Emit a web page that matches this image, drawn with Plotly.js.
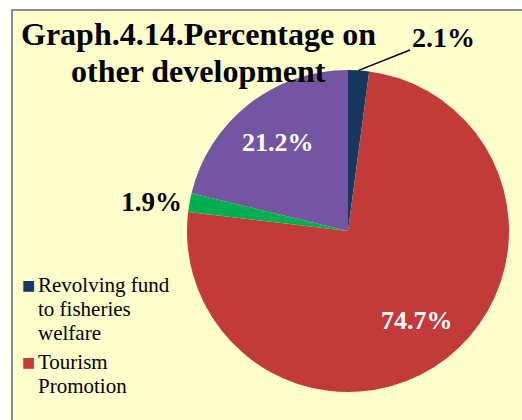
<!DOCTYPE html>
<html>
<head>
<meta charset="utf-8">
<script src="https://cdn.plot.ly/plotly-3.0.1.min.js"></script>
<style>html,body{margin:0;padding:0;background:#fff;}#chart{width:522px;height:420px;}</style>
</head>
<body>
<div id="chart"></div>
<script>
// Data
const categories = ["Revolving fund to fisheries welfare", "Tourism Promotion", "Fisheries infrastructure", "Other development"];
const values = [2.1, 74.7, 1.9, 21.2];
const colors = ["#17375E", "#C23A39", "#00B050", "#7455A2"];
const legendShown = [0, 1];
const legendLines = [["Revolving fund", "to fisheries", "welfare"], ["Tourism", "Promotion"]];
const titleLines = ["Graph.4.14.Percentage on", "other development"];

const W = 522, H = 420;
const cx = 348, cy = 231, r = 161;
const serif = "Liberation Serif";

const pct = values.map(v => v.toFixed(1) + "%");
const total = values.reduce((a, b) => a + b, 0);
const mids = [];
let acc = 0;
values.forEach(v => { mids.push((acc + v / 2) / total * 2 * Math.PI); acc += v; });

const trace = {
  type: "pie",
  labels: categories,
  values: values,
  text: pct,
  texttemplate: "%{text}",
  textinfo: "text",
  textposition: ["none", "none", "outside", "none"],
  sort: false,
  direction: "clockwise",
  rotation: 0,
  marker: {colors: colors, line: {width: 0}},
  outsidetextfont: {family: serif, size: 27, color: "#000000", weight: "bold"},
  domain: {x: [(cx - r) / W, (cx + r) / W], y: [(H - cy - r) / H, (H - cy + r) / H]},
  showlegend: false,
  hoverinfo: "none"
};

const annotations = [];
// title lines
const titleCenters = [34, 71];
titleLines.forEach((t, i) => {
  annotations.push({
    xref: "paper", yref: "paper", x: 198 / W, y: (H - titleCenters[i]) / H,
    xanchor: "center", yanchor: "middle", showarrow: false,
    text: "<b>" + t + "</b>", font: {family: serif, size: 32, color: "#000"}
  });
});
// inside labels for the two large slices, at slice mid-angle
[1, 3].forEach(i => {
  const f = 0.7;
  const lx = cx + f * r * Math.sin(mids[i]), ly = cy - f * r * Math.cos(mids[i]);
  annotations.push({
    xref: "paper", yref: "paper", x: lx / W, y: (H - ly) / H,
    xanchor: "center", yanchor: "middle", showarrow: false,
    text: "<b>" + pct[i] + "</b>", font: {family: serif, size: 26, color: "#fff"}
  });
});
// small-slice label with leader line (slice 0)
const px = cx + r * Math.sin(mids[0]), py = cy - r * Math.cos(mids[0]);
annotations.push({
  xref: "paper", yref: "paper", x: px / W, y: (H - py) / H,
  text: "<b>" + pct[0] + "</b>", showarrow: true, arrowhead: 0, arrowwidth: 1.5, arrowcolor: "#000",
  ax: 443 - px, ay: 37 - py, font: {family: serif, size: 28, color: "#000"}
});
// legend built from data
const legendY = [285, 362];
const lineGap = 24;
legendShown.forEach((idx, k) => {
  annotations.push({
    xref: "paper", yref: "paper", x: 20 / W, y: (H - legendY[k]) / H,
    xanchor: "left", yanchor: "middle", showarrow: false,
    text: "■", font: {family: "DejaVu Sans", size: 14, color: colors[idx]}
  });
  legendLines[k].forEach((ln, j) => {
    annotations.push({
      xref: "paper", yref: "paper", x: 36 / W, y: (H - legendY[k] - j * lineGap) / H,
      xanchor: "left", yanchor: "middle", showarrow: false,
      text: ln, font: {family: serif, size: 21, color: "#000"}
    });
  });
});

const layout = {
  width: W, height: H,
  margin: {l: 0, r: 0, t: 0, b: 0},
  paper_bgcolor: "#ffffff",
  showlegend: false,
  shapes: [{
    type: "rect", xref: "paper", yref: "paper", layer: "below",
    x0: 12 / W, x1: 1.02, y0: -0.02, y1: (H - 10) / H,
    fillcolor: "#FFFFCC", line: {color: "#8C8C8C", width: 2}
  }],
  annotations: annotations
};

Plotly.newPlot("chart", [trace], layout, {displayModeBar: false, staticPlot: true});
</script>
</body>
</html>
